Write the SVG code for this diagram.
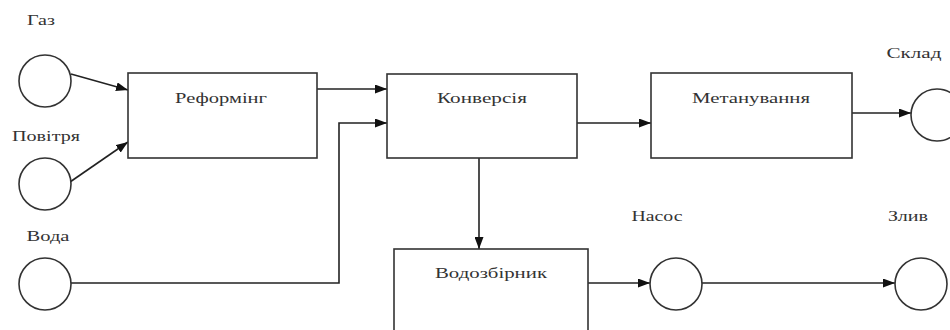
<svg xmlns="http://www.w3.org/2000/svg" width="950" height="330" viewBox="0 0 950 330">
<style>
.box{fill:#fff;stroke:#333;stroke-width:1.6}
.node{fill:#fff;stroke:#333;stroke-width:1.6}
.lbl{font-family:'Liberation Serif','DejaVu Serif',serif;font-size:15px;fill:#333;text-anchor:middle}
.con{fill:none;stroke:#222;stroke-width:1.6}
</style>
<defs>
<marker id="arr" markerUnits="userSpaceOnUse" markerWidth="12" markerHeight="9" refX="12" refY="4.5" orient="auto">
<path d="M0,0 L12,4.5 L0,9 z" fill="#111"/>
</marker>
</defs>
<rect width="950" height="330" fill="#fff"/>
<g id="connectors">
<line class="con" x1="71" y1="74" x2="128" y2="90" marker-end="url(#arr)"/>
<line class="con" x1="70" y1="182" x2="128" y2="142" marker-end="url(#arr)"/>
<line class="con" x1="317" y1="89" x2="387" y2="89" marker-end="url(#arr)"/>
<polyline class="con" points="71,283 339,283 339,123 387,123" marker-end="url(#arr)"/>
<line class="con" x1="577" y1="123" x2="651" y2="123" marker-end="url(#arr)"/>
<line class="con" x1="852" y1="113" x2="911" y2="113" marker-end="url(#arr)"/>
<line class="con" x1="479" y1="158" x2="479" y2="249" marker-end="url(#arr)"/>
<line class="con" x1="588" y1="283" x2="650" y2="283" marker-end="url(#arr)"/>
<line class="con" x1="702" y1="283" x2="895" y2="283" marker-end="url(#arr)"/>
</g>
<g id="labels" font-family="Liberation Serif, DejaVu Serif, serif">
<g id="gas">
<circle class="node" cx="45" cy="81" r="26"/>
<text class="lbl" x="41" y="25" textLength="28" lengthAdjust="spacingAndGlyphs">Газ</text>
</g>
<g id="air">
<circle class="node" cx="45" cy="184" r="26"/>
<text class="lbl" x="46" y="141" textLength="68" lengthAdjust="spacingAndGlyphs">Повітря</text>
</g>
<g id="water">
<circle class="node" cx="45" cy="284" r="26"/>
<text class="lbl" x="48" y="241" textLength="43" lengthAdjust="spacingAndGlyphs">Вода</text>
</g>
<g id="reforming">
<rect class="box" x="128" y="73" width="189" height="85"/>
<text class="lbl" x="221" y="103" textLength="92" lengthAdjust="spacingAndGlyphs">Реформінг</text>
</g>
<g id="conversion">
<rect class="box" x="387" y="74" width="190" height="84"/>
<text class="lbl" x="482" y="103" textLength="90" lengthAdjust="spacingAndGlyphs">Конверсія</text>
</g>
<g id="methanation">
<rect class="box" x="651" y="73" width="201" height="85"/>
<text class="lbl" x="751" y="103" textLength="118" lengthAdjust="spacingAndGlyphs">Метанування</text>
</g>
<g id="storage">
<circle class="node" cx="937" cy="115" r="26"/>
<text class="lbl" x="914" y="58" textLength="55" lengthAdjust="spacingAndGlyphs">Склад</text>
</g>
<g id="collector">
<rect class="box" x="394" y="249" width="194" height="95"/>
<text class="lbl" x="491" y="278" textLength="112" lengthAdjust="spacingAndGlyphs">Водозбірник</text>
</g>
<g id="pump">
<circle class="node" cx="676" cy="284" r="26"/>
<text class="lbl" x="657" y="221" textLength="51" lengthAdjust="spacingAndGlyphs">Насос</text>
</g>
<g id="drain">
<circle class="node" cx="921" cy="284" r="26"/>
<text class="lbl" x="908" y="221" textLength="40" lengthAdjust="spacingAndGlyphs">Злив</text>
</g>
</g>
</svg>
